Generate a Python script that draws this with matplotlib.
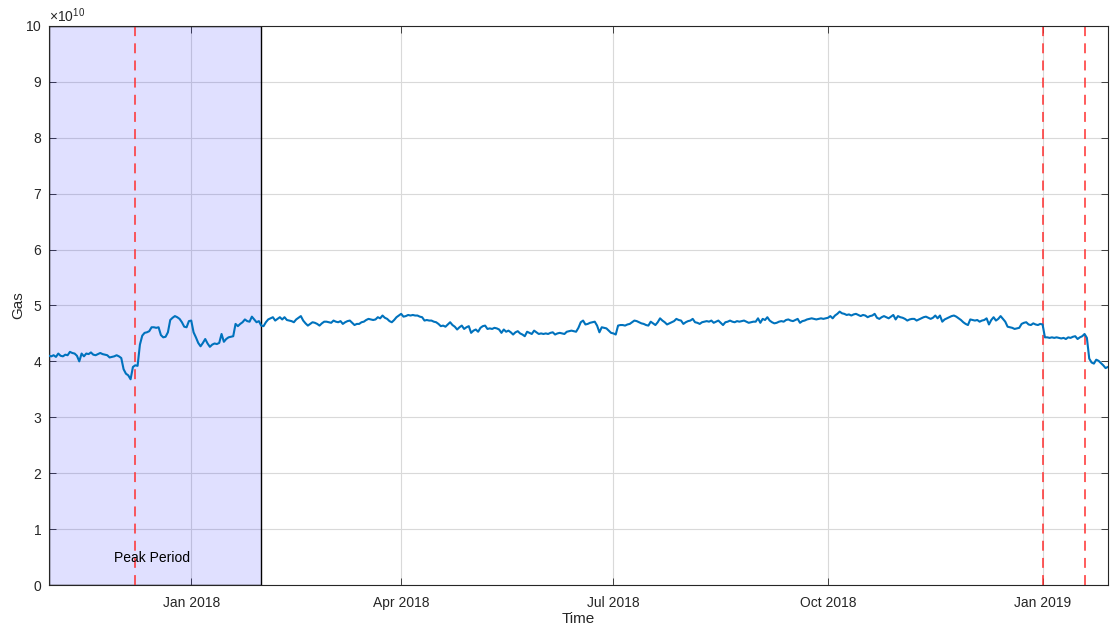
import numpy as np
import pandas as pd
import matplotlib
matplotlib.use("Agg")
import matplotlib.pyplot as plt
import matplotlib.dates as mdates
from matplotlib.ticker import ScalarFormatter

plt.rcParams["font.family"] = ["Liberation Sans", "DejaVu Sans"]
plt.rcParams["mathtext.default"] = "regular"

# daily gas values in units of 1e10
nov_2017 = [4.10, 4.09, 4.11, 4.08, 4.14, 4.10, 4.09, 4.12, 4.11, 4.17,
            4.15, 4.14, 4.10, 4.00, 4.14, 4.09, 4.14, 4.13, 4.16, 4.12,
            4.11, 4.13, 4.15, 4.13, 4.12, 4.11, 4.07, 4.08, 4.09, 4.11]
dec_2017 = [4.09, 4.06, 3.86, 3.78, 3.75, 3.68, 3.90, 3.93, 3.92, 4.30,
            4.46, 4.51, 4.52, 4.54, 4.61, 4.61, 4.60, 4.61, 4.47, 4.43,
            4.44, 4.52, 4.74, 4.78, 4.81, 4.79, 4.76, 4.70, 4.62, 4.61, 4.72]
jan_2018 = [4.73, 4.52, 4.43, 4.33, 4.27, 4.33, 4.40, 4.32, 4.26, 4.30,
            4.32, 4.31, 4.33, 4.49, 4.35, 4.40, 4.43, 4.44, 4.45, 4.67,
            4.63, 4.67, 4.70, 4.75, 4.72, 4.71, 4.80, 4.75, 4.70, 4.72, 4.64]
feb_2018 = [4.63, 4.70, 4.75, 4.77, 4.79, 4.73, 4.76, 4.79, 4.75, 4.79,
            4.74, 4.73, 4.72, 4.70, 4.75, 4.78, 4.81, 4.73, 4.68, 4.64,
            4.67, 4.70, 4.69, 4.67, 4.64, 4.68, 4.71, 4.71]
mar_2018 = [4.70, 4.69, 4.73, 4.71, 4.70, 4.72, 4.67, 4.70, 4.72, 4.73,
            4.69, 4.65, 4.67, 4.67, 4.70, 4.71, 4.74, 4.76, 4.75, 4.74,
            4.75, 4.79, 4.77, 4.82, 4.78, 4.76, 4.72, 4.70, 4.74, 4.79, 4.82]
apr_2018 = [4.85, 4.80, 4.81, 4.83, 4.82, 4.83, 4.82, 4.82, 4.80, 4.79,
            4.73, 4.74, 4.73, 4.73, 4.71, 4.70, 4.67, 4.63, 4.64, 4.62,
            4.66, 4.70, 4.65, 4.62, 4.57, 4.61, 4.64, 4.58, 4.61, 4.63]
may_2018 = [4.51, 4.55, 4.57, 4.53, 4.60, 4.63, 4.64, 4.58, 4.59, 4.58,
            4.60, 4.59, 4.57, 4.51, 4.57, 4.53, 4.55, 4.52, 4.48, 4.52,
            4.54, 4.50, 4.48, 4.45, 4.53, 4.51, 4.49, 4.55, 4.52, 4.49, 4.50]
jun_2018 = [4.49, 4.50, 4.49, 4.51, 4.52, 4.48, 4.50, 4.51, 4.50, 4.49,
            4.53, 4.54, 4.55, 4.54, 4.53, 4.60, 4.70, 4.73, 4.66, 4.67,
            4.69, 4.70, 4.71, 4.64, 4.52, 4.61, 4.60, 4.59, 4.55, 4.51]
jul_2018 = [4.50, 4.48, 4.64, 4.65, 4.65, 4.64, 4.66, 4.67, 4.70, 4.73,
            4.72, 4.70, 4.68, 4.67, 4.65, 4.64, 4.71, 4.68, 4.65, 4.70,
            4.77, 4.73, 4.70, 4.66, 4.68, 4.70, 4.72, 4.76, 4.74, 4.73, 4.67]
aug_2018 = [4.70, 4.72, 4.73, 4.76, 4.70, 4.69, 4.67, 4.70, 4.71, 4.72,
            4.71, 4.73, 4.69, 4.71, 4.73, 4.69, 4.65, 4.70, 4.71, 4.73,
            4.71, 4.70, 4.72, 4.71, 4.72, 4.73, 4.71, 4.69, 4.70, 4.71, 4.71]
sep_2018 = [4.77, 4.69, 4.76, 4.74, 4.79, 4.73, 4.70, 4.68, 4.69, 4.71,
            4.72, 4.71, 4.74, 4.75, 4.73, 4.72, 4.74, 4.76, 4.69, 4.72,
            4.73, 4.75, 4.76, 4.77, 4.76, 4.75, 4.76, 4.77, 4.76, 4.77]
oct_2018 = [4.78, 4.81, 4.77, 4.82, 4.85, 4.89, 4.86, 4.85, 4.83, 4.84,
            4.82, 4.84, 4.85, 4.83, 4.81, 4.83, 4.82, 4.79, 4.81, 4.82,
            4.85, 4.78, 4.76, 4.79, 4.81, 4.79, 4.77, 4.80, 4.83, 4.75, 4.81]
nov_2018 = [4.79, 4.78, 4.76, 4.73, 4.75, 4.76, 4.76, 4.73, 4.75, 4.77,
            4.79, 4.80, 4.78, 4.76, 4.78, 4.82, 4.77, 4.82, 4.71, 4.75,
            4.77, 4.79, 4.81, 4.82, 4.80, 4.77, 4.74, 4.70, 4.67, 4.65]
dec_2018 = [4.75, 4.74, 4.73, 4.74, 4.71, 4.73, 4.74, 4.77, 4.66, 4.74,
            4.79, 4.73, 4.76, 4.81, 4.76, 4.71, 4.62, 4.61, 4.60, 4.58,
            4.59, 4.60, 4.67, 4.69, 4.70, 4.66, 4.65, 4.68, 4.66, 4.65, 4.67]
jan_2019 = [4.66, 4.43, 4.43, 4.42, 4.43, 4.42, 4.43, 4.42, 4.41, 4.42,
            4.40, 4.43, 4.42, 4.44, 4.45, 4.40, 4.43, 4.45, 4.49, 4.42,
            4.05, 3.98, 3.96, 4.03, 4.01, 3.97, 3.93, 3.88, 3.90]

gas = np.array(nov_2017 + dec_2017 + jan_2018 + feb_2018 + mar_2018 + apr_2018
               + may_2018 + jun_2018 + jul_2018 + aug_2018 + sep_2018
               + oct_2018 + nov_2018 + dec_2018 + jan_2019) * 1e10
dates = pd.date_range("2017-11-01", periods=len(gas), freq="D")

peak_start = pd.Timestamp("2017-11-01")
peak_end = pd.Timestamp("2018-01-31")
event_dates = [pd.Timestamp("2017-12-08"), pd.Timestamp("2019-01-01"),
               pd.Timestamp("2019-01-19")]
label_date = pd.Timestamp("2017-12-15")

TEXT = "#262626"

fig = plt.figure(figsize=(11.1, 6.31), dpi=100)
ax = fig.add_axes([0.0441, 0.0729, 0.954, 0.886])

ax.grid(True, color="#d9d9d9", linewidth=0.8)
ax.set_axisbelow(True)

ax.axvspan(peak_start, peak_end, facecolor=(0, 0, 1, 0.12),
           edgecolor="black", linewidth=1.0, zorder=1)
ax.text(label_date, 0.48e10, "Peak Period", ha="center", va="center",
        fontsize=10, color="black", zorder=4)

ax.plot(dates, gas, color="#0072BD", linewidth=1.5, zorder=3)

for d in event_dates:
    ax.axvline(d, color="#ff3030", linestyle=(0, (5.5, 4)), linewidth=1.3,
               alpha=0.85, zorder=2)

ax.set_xlim(dates[0], dates[-1])
ax.set_ylim(0, 10e10)
ax.set_yticks(np.arange(0, 11) * 1e10)

fmt = ScalarFormatter(useMathText=True)
fmt.set_powerlimits((10, 10))
ax.yaxis.set_major_formatter(fmt)
ax.yaxis.get_offset_text().set_fontsize(10)
ax.yaxis.get_offset_text().set_color(TEXT)

ax.xaxis.set_major_locator(mdates.MonthLocator(bymonth=[1, 4, 7, 10]))
ax.xaxis.set_major_formatter(mdates.DateFormatter("%b %Y"))

ax.tick_params(direction="in", length=5, width=0.6, top=True, right=True,
               labelsize=10, colors=TEXT)
ax.tick_params(axis="x", pad=8)
ax.tick_params(axis="y", pad=5)
for sp in ax.spines.values():
    sp.set_color(TEXT)
    sp.set_linewidth(0.8)

ax.set_xlabel("Time", fontsize=11, color=TEXT, labelpad=1)
ax.set_ylabel("Gas", fontsize=11, color=TEXT, labelpad=0)

fig.savefig("out.png", dpi=100)
